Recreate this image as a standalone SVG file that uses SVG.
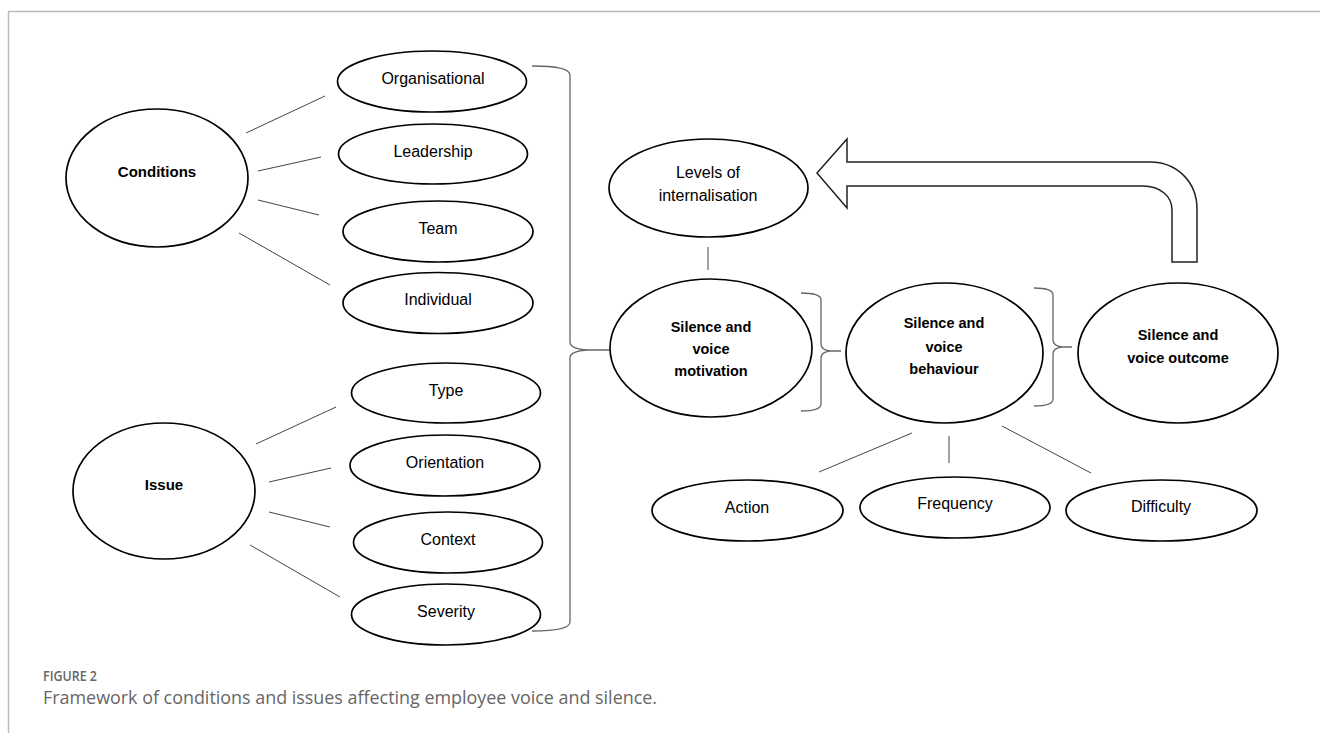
<svg xmlns="http://www.w3.org/2000/svg" width="1320" height="733" viewBox="0 0 1320 733">
<defs>
<style>
.nd{fill:#fff;stroke:#000;stroke-width:1.7}
.t{font-family:"Liberation Sans",Arial,sans-serif;font-size:16px;fill:#000;text-anchor:middle}
.b{font-family:"Liberation Sans",Arial,sans-serif;font-size:14.5px;font-weight:bold;fill:#000;text-anchor:middle}
.ln{stroke:#444;stroke-width:1;fill:none}
.br{stroke:#666;stroke-width:1.3;fill:none}
.cap{font-family:"Open Sans","Liberation Sans",sans-serif;fill:#666}
</style>
</defs>
<rect width="1320" height="733" fill="#fff"/>
<path d="M8.5,733 L8.5,11.5 L1320,11.5" fill="none" stroke="#bbb" stroke-width="1.5"/>

<g id="connectors">
<line class="ln" x1="246" y1="133" x2="325" y2="96"/>
<line class="ln" x1="258" y1="171" x2="321" y2="157"/>
<line class="ln" x1="258" y1="200" x2="319" y2="215"/>
<line class="ln" x1="239" y1="233" x2="330" y2="285"/>
<line class="ln" x1="256" y1="444" x2="336" y2="407"/>
<line class="ln" x1="269" y1="482" x2="331" y2="468"/>
<line class="ln" x1="269" y1="512" x2="330" y2="527"/>
<line class="ln" x1="250" y1="545" x2="340" y2="597"/>
<line class="ln" x1="708" y1="247" x2="708" y2="270"/>
<line class="ln" x1="819" y1="472" x2="912" y2="433"/>
<line class="ln" x1="949" y1="436" x2="949" y2="463"/>
<line class="ln" x1="1002" y1="426" x2="1091" y2="473"/>
<path class="br" d="M532,66 Q570,66 570,75 L570,342 Q570,349 588,350 L609,350 M588,350 Q570,351 570,358 L570,622 Q570,631 532,631"/>
<path class="br" d="M801,293 Q821,293 821,300 L821,344 Q821,350 830,351 L841,351 M830,351 Q821,352 821,358 L821,404 Q821,411 801,411"/>
<path class="br" d="M1034,288 Q1053,288 1053,295 L1053,340 Q1053,346 1062,347 L1072,347 M1062,347 Q1053,348 1053,354 L1053,399 Q1053,406 1034,406"/>
<path d="M817,173 L847,139 L847,162 L1150,162 C1177,162 1197,182 1197,209 L1197,262 L1172,262 L1172,210 C1172,196 1160,186 1143,186 L847,186 L847,208 Z" fill="#fff" stroke="#222" stroke-width="1.5"/>
</g>

<g id="conditions"><ellipse class="nd" cx="157" cy="178" rx="91" ry="69"/><text class="b" x="157" y="177" style="font-size:15px">Conditions</text></g>
<g id="organisational"><ellipse class="nd" cx="432" cy="81.5" rx="94.5" ry="30.5"/><text class="t" x="433" y="84">Organisational</text></g>
<g id="leadership"><ellipse class="nd" cx="433" cy="154" rx="94.5" ry="30"/><text class="t" x="433" y="157">Leadership</text></g>
<g id="team"><ellipse class="nd" cx="438" cy="231.5" rx="95" ry="30.5"/><text class="t" x="438" y="234">Team</text></g>
<g id="individual"><ellipse class="nd" cx="438" cy="303" rx="95" ry="30.5"/><text class="t" x="438" y="305">Individual</text></g>

<g id="issue"><ellipse class="nd" cx="164" cy="491" rx="91" ry="68"/><text class="b" x="164" y="490" style="font-size:15px">Issue</text></g>
<g id="type"><ellipse class="nd" cx="446" cy="393" rx="94.5" ry="30"/><text class="t" x="446" y="396">Type</text></g>
<g id="orientation"><ellipse class="nd" cx="445" cy="465.5" rx="95" ry="30.5"/><text class="t" x="445" y="468">Orientation</text></g>
<g id="context"><ellipse class="nd" cx="448" cy="542.5" rx="94.5" ry="30.5"/><text class="t" x="448" y="545">Context</text></g>
<g id="severity"><ellipse class="nd" cx="446" cy="614.5" rx="94.5" ry="30.5"/><text class="t" x="446" y="617">Severity</text></g>

<g id="levels"><ellipse class="nd" cx="708.5" cy="188" rx="99.5" ry="49"/><text class="t" x="708" y="177.5">Levels of</text><text class="t" x="708" y="200.5">internalisation</text></g>
<g id="motivation"><ellipse class="nd" cx="711" cy="348" rx="101" ry="69"/><text class="b" x="711" y="332">Silence and</text><text class="b" x="711" y="354">voice</text><text class="b" x="711" y="376">motivation</text></g>
<g id="behaviour"><ellipse class="nd" cx="944.5" cy="353" rx="98.5" ry="70"/><text class="b" x="944" y="328">Silence and</text><text class="b" x="944" y="352">voice</text><text class="b" x="944" y="374">behaviour</text></g>
<g id="outcome"><ellipse class="nd" cx="1178" cy="353" rx="100" ry="70"/><text class="b" x="1178" y="340">Silence and</text><text class="b" x="1178" y="363">voice outcome</text></g>
<g id="action"><ellipse class="nd" cx="747.5" cy="510.5" rx="95.5" ry="30.5"/><text class="t" x="747" y="513">Action</text></g>
<g id="frequency"><ellipse class="nd" cx="955" cy="507.5" rx="95" ry="30.5"/><text class="t" x="955" y="509">Frequency</text></g>
<g id="difficulty"><ellipse class="nd" cx="1161.5" cy="510.5" rx="95.5" ry="30.5"/><text class="t" x="1161" y="512">Difficulty</text></g>

<g id="caption">
<text class="cap" x="43" y="680.5" font-size="15" font-weight="600" textLength="54" lengthAdjust="spacingAndGlyphs">FIGURE 2</text>
<text class="cap" x="43" y="704" font-size="17.5" textLength="614" lengthAdjust="spacingAndGlyphs">Framework of conditions and issues affecting employee voice and silence.</text>
</g>
</svg>
